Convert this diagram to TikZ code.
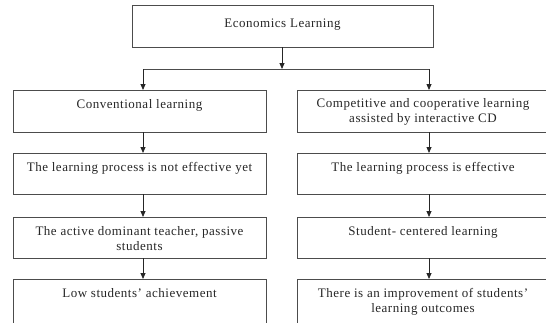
\documentclass[tikz,border=0pt]{standalone}
\usepackage{fontspec}
\setmainfont{Liberation Serif}[LetterSpace=4]
\usetikzlibrary{arrows.meta}
\tikzset{
  box/.style={draw=black!70, line width=0.95pt, rectangle, anchor=north west, inner sep=0pt, outer sep=0pt},
  txt/.style={anchor=north, align=center, inner sep=0pt, font=\fontsize{13}{15}\selectfont, text=black!85},
  arr/.style={draw=black!85, line width=0.8pt, -{Triangle[length=6pt,width=5pt]}},
  ln/.style={draw=black!70, line width=0.8pt}
}
\begin{document}
\begin{tikzpicture}[x=1pt,y=-1pt]
\useasboundingbox (0,0) rectangle (546,322);
\clip (0,0) rectangle (546,322);
% top
\node[box, minimum width=301pt, minimum height=42pt] (top) at (132,5) {};
\node[txt] (ttop) at ([yshift=-14pt]top.north) {Economics Learning};
% split coordinates
\coordinate (mid) at (282,69);
\coordinate (cl) at (143,69);
\coordinate (cr) at (429,69);
% left column
\node[box, minimum width=253pt, minimum height=42pt] (l1) at (13,90) {};
\node[box, minimum width=253pt, minimum height=41pt] (l2) at (13,153) {};
\node[box, minimum width=253pt, minimum height=41pt] (l3) at (13,217) {};
\node[box, minimum width=253pt, minimum height=60pt] (l4) at (13,279) {};
% right column
\node[box, minimum width=262pt, minimum height=42pt] (r1) at (297,90) {};
\node[box, minimum width=262pt, minimum height=41pt] (r2) at (297,153) {};
\node[box, minimum width=262pt, minimum height=41pt] (r3) at (297,217) {};
\node[box, minimum width=262pt, minimum height=60pt] (r4) at (297,279) {};
% texts
\node[txt] (tl1) at ([yshift=-9pt]l1.north) {Conventional learning};
\node[txt] (tl2) at ([yshift=-9pt]l2.north) {The learning process is not effective yet};
\node[txt] (tl3) at ([yshift=-9pt]l3.north) {The active dominant teacher, passive\\students};
\node[txt] (tl4) at ([yshift=-9pt]l4.north) {Low students’ achievement};
\node[txt] (tr1) at ([xshift=-5pt,yshift=-8pt]r1.north) {Competitive and cooperative learning\\assisted by interactive CD};
\node[txt] (tr2) at ([xshift=-5pt,yshift=-9pt]r2.north) {The learning process is effective};
\node[txt] (tr3) at ([xshift=-5pt,yshift=-9pt]r3.north) {Student- centered learning};
\node[txt] (tr4) at ([xshift=-5pt,yshift=-9pt]r4.north) {There is an improvement of students’\\learning outcomes};
% connectors
\draw[arr] (top.south -| mid) -- (mid);
\draw[ln] (cl) -- (cr);
\draw[arr] (cl) -- (cl |- l1.north);
\draw[arr] (cr) -- (cr |- r1.north);
\draw[arr] (l1.south -| cl) -- (l2.north -| cl);
\draw[arr] (l2.south -| cl) -- (l3.north -| cl);
\draw[arr] (l3.south -| cl) -- (l4.north -| cl);
\draw[arr] (r1.south -| cr) -- (r2.north -| cr);
\draw[arr] (r2.south -| cr) -- (r3.north -| cr);
\draw[arr] (r3.south -| cr) -- (r4.north -| cr);
\end{tikzpicture}
\end{document}
